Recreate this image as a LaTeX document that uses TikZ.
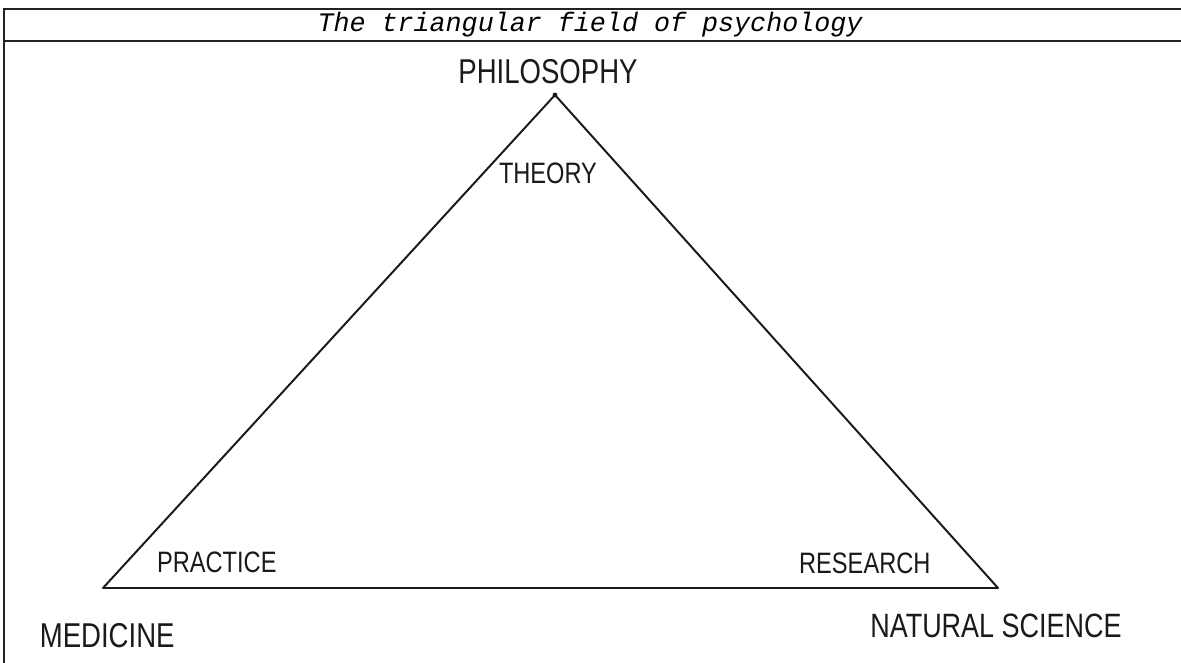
\documentclass[tikz,border=0pt]{standalone}
\usepackage{fontspec}
\usepackage{tikz}
\newfontfamily\handfont[FakeStretch=0.8]{Liberation Sans}
\newfontfamily\capfont{Liberation Mono}
\definecolor{diagramInk}{HTML}{1A1A1A}
\definecolor{diagramFrame}{HTML}{222222}

\begin{document}
\begin{tikzpicture}[
    x=1cm,y=1cm,
    every node/.style={inner sep=0pt,align=center,text=diagramInk},
    frame/.style={draw=diagramFrame,line width=1.2pt},
    caption/.style={font=\capfont\itshape\fontsize{19}{22}\selectfont,text=black},
    lettering/.style={font=\handfont\fontsize{21}{24}\selectfont},
    pole/.style={font=\handfont\fontsize{24.5}{28}\selectfont},
    side/.style={draw=diagramInk,line width=1.4pt,line join=round,line cap=round}
]
\useasboundingbox (0,0) rectangle (29.525,16.575);
\fill[white] (0,0) rectangle (29.525,16.575);

% frame and title row
\draw[frame] (0.1,-0.2) rectangle (29.8,16.35);
\draw[frame] (0.1,15.55) -- (29.8,15.55);
\node[caption] (title) at (14.75,15.95) {The triangular field of psychology};

% corners of the triangle
\coordinate (top) at (13.875,14.2);
\coordinate (left) at (2.575,1.875);
\coordinate (right) at (24.95,1.875);
\draw[side] (top) -- (left) -- (right) -- cycle;
\fill[diagramInk] (top) circle (0.06);

\node[pole] (philosophy) at (13.7,14.78) {PHILOSOPHY};
\node[lettering] (theory) at (13.7,12.25) {THEORY};
\node[lettering] (practice) at (5.42,2.52) {PRACTICE};
\node[lettering] (research) at (21.62,2.48) {RESEARCH};
\node[pole] (medicine) at (2.68,0.68) {MEDICINE};
\node[pole,font=\handfont\fontsize{24}{28}\selectfont] (natsci) at (24.9,0.92) {NATURAL SCIENCE};
\end{tikzpicture}
\end{document}
